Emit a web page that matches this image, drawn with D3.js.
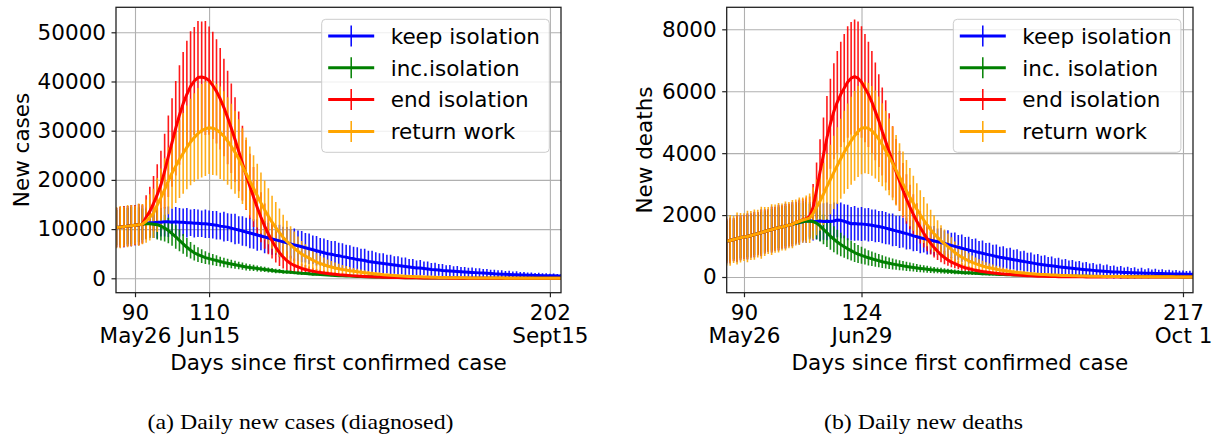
<!DOCTYPE html>
<meta charset="utf-8">
<style>
  body { margin: 0; background: #fff; }
  svg { display: block; }
</style>
<body>
<script src="https://cdn.jsdelivr.net/npm/d3@7"></script>
<script>
// ---- data: daily values, first day 85 ----
// new cases, in thousands (days 85..205)
const casesFirstDay = 85;
const casesKeep = [10.3,10.4,10.5,10.6,10.7,10.8,10.9,11.0,
  11.2,11.3,11.3,11.4,11.4,11.5,11.5,11.4,
  11.5,11.4,11.4,11.3,11.3,11.2,11.2,11.1,11.1,11.0,
  10.9,10.8,10.6,10.5,10.4,10.2,10.0,9.8,9.6,9.4,
  9.2,9.0,8.8,8.6,8.4,8.2,8.0,7.8,7.6,7.4,
  7.2,7.0,6.8,6.6,6.4,6.2,6.0,5.8,5.6,5.4,
  5.2,5.0,4.9,4.7,4.6,4.4,4.3,4.1,4.0,3.8,
  3.7,3.6,3.4,3.3,3.2,3.1,3.0,2.9,2.8,2.7,
  2.6,2.5,2.4,2.3,2.2,2.1,2.1,2.0,1.9,1.8,
  1.75,1.7,1.6,1.55,1.5,1.45,1.4,1.35,1.3,1.25,
  1.2,1.15,1.1,1.05,1.0,0.95,0.9,0.87,0.84,0.8,
  0.77,0.74,0.71,0.68,0.65,0.62,0.6,0.58,0.56,0.54,0.52,0.5,0.49,0.48,0.47];
const casesKeepErr = [4.0,4.1,4.2,4.1,4.2,4.1,4.2,3.8,
  3.2,3.0,3.1,3.3,2.9,3.0,3.1,2.8,
  3.0,2.9,2.8,3.0,2.7,2.9,2.8,2.7,2.9,2.8,
  2.8,2.9,2.7,3.0,2.8,2.9,3.1,2.8,3.0,2.9,
  3.1,3.0,3.2,2.9,3.3,3.1,3.2,3.0,3.3,3.1,
  3.2,3.0,3.3,3.1,3.2,3.0,3.1,2.9,3.0,2.8,
  2.9,2.8,2.7,2.9,2.6,2.7,2.5,2.6,2.4,2.5,
  2.3,2.4,2.2,2.3,2.1,2.0,2.1,1.9,2.0,1.8,
  1.9,1.7,1.8,1.6,1.7,1.5,1.6,1.4,1.5,1.3,
  1.4,1.2,1.3,1.1,1.2,1.0,1.1,0.95,1.0,0.9,
  1.0,0.9,0.95,0.85,0.9,0.8,0.85,0.75,0.8,0.7,
  0.75,0.65,0.7,0.6,0.65,0.55,0.6,0.5,0.55,0.48,0.5,0.44,0.46,0.4,0.42];
const casesInc = [10.3,10.4,10.5,10.6,10.7,10.8,10.9,11.0,
  11.1,11.1,11.0,10.9,10.6,10.2,9.7,9.1,
  8.4,7.7,7.0,6.3,5.7,5.2,4.8,4.5,4.2,4.0,
  3.8,3.6,3.4,3.2,3.05,2.9,2.75,2.6,2.45,2.3,
  2.2,2.1,2.0,1.9,1.8,1.7,1.6,1.5,1.45,1.35,
  1.3,1.22,1.15,1.08,1.0,0.95,0.9,0.84,0.8,0.75,
  0.7,0.66,0.62,0.58,0.54,0.5,0.47,0.44,0.41,0.38,
  0.35,0.33,0.3,0.28,0.26,0.24,0.22,0.2,0.18,0.17,
  0.15,0.14,0.13,0.12,0.11,0.1,0.09,0.08,0.07,0.07,
  0.06,0.06,0.05,0.05,0.04,0.04,0.04,0.03,0.03,0.03,
  0.03,0.02,0.02,0.02,0.02,0.02,0.01,0.01,0.01,0.01,
  0.01,0.01,0.01,0.01,0.01,0.01,0.01,0.01,0.01,0.01,0.01,0.01,0.01,0.01,0.01];
const casesIncErr = [3.6,3.7,3.8,3.7,3.8,3.6,3.5,3.2,
  3.0,2.9,2.8,3.0,2.9,2.7,2.6,2.5,
  2.4,2.2,2.0,1.9,1.7,1.6,1.5,1.4,1.3,1.2,
  1.15,1.1,1.0,0.95,0.9,0.85,0.8,0.78,0.74,0.7,
  0.66,0.63,0.6,0.57,0.54,0.51,0.48,0.46,0.44,0.41,
  0.39,0.37,0.35,0.33,0.31,0.29,0.28,0.26,0.25,0.24,
  0.22,0.21,0.2,0.19,0.18,0.17,0.16,0.15,0.14,0.13,
  0.12,0.11,0.1,0.1,0.09,0.08,0.08,0.07,0.07,0.06,
  0.06,0.05,0.05,0.04,0.04,0.04,0.03,0.03,0.03,0.03,
  0.02,0.02,0.02,0.02,0.02,0.02,0.02,0.02,0.02,0.02,
  0.02,0.02,0.02,0.02,0.02,0.02,0.02,0.02,0.02,0.02,
  0.01,0.01,0.01,0.01,0.01,0.01,0.01,0.01,0.01,0.01,0.01,0.01,0.01,0.01,0.01];
const casesEnd = [10.3,10.4,10.5,10.6,10.7,10.8,10.9,11.0,
  12.4,13.6,15.2,17.0,19.0,21.8,24.8,27.6,
  30.5,33.2,35.5,37.4,39.0,40.1,40.8,40.9,40.7,40.2,
  39.2,38.0,36.5,34.7,32.7,30.5,28.2,25.8,23.4,21.0,
  18.7,16.5,14.4,12.4,10.6,9.0,7.6,6.3,5.2,4.3,
  3.6,3.0,2.6,2.3,2.0,1.8,1.6,1.45,1.3,1.18,
  1.07,0.97,0.88,0.8,0.72,0.66,0.6,0.54,0.49,0.44,
  0.4,0.36,0.33,0.3,0.27,0.24,0.22,0.2,0.18,0.16,
  0.15,0.13,0.12,0.11,0.1,0.09,0.08,0.07,0.06,0.06,
  0.05,0.05,0.04,0.04,0.03,0.03,0.03,0.02,0.02,0.02,
  0.02,0.02,0.02,0.01,0.01,0.01,0.01,0.01,0.01,0.01,
  0.01,0.01,0.01,0.01,0.01,0.01,0.01,0.01,0.01,0.01,0.01,0.01,0.01,0.01,0.01];
const casesEndErr = [4.0,4.1,4.2,4.1,4.2,4.1,4.2,4.0,
  4.5,5.0,5.6,6.2,6.9,7.6,8.3,9.0,
  9.6,10.1,10.5,10.9,11.2,11.0,11.5,11.3,11.6,11.0,
  10.9,10.6,10.3,9.9,9.5,9.1,8.6,8.1,7.6,7.1,
  6.6,6.1,5.6,5.1,4.6,4.1,3.6,3.1,2.7,2.3,
  1.9,1.6,1.4,1.2,1.0,0.9,0.8,0.7,0.6,0.55,
  0.5,0.45,0.4,0.36,0.33,0.3,0.27,0.24,0.21,0.19,
  0.17,0.15,0.13,0.12,0.11,0.1,0.09,0.08,0.07,0.06,
  0.06,0.05,0.05,0.04,0.04,0.03,0.03,0.03,0.02,0.02,
  0.02,0.02,0.02,0.02,0.02,0.02,0.02,0.01,0.01,0.01,
  0.01,0.01,0.01,0.01,0.01,0.01,0.01,0.01,0.01,0.01,
  0.01,0.01,0.01,0.01,0.01,0.01,0.01,0.01,0.01,0.01,0.01,0.01,0.01,0.01,0.01];
const casesReturn = [10.3,10.4,10.5,10.6,10.7,10.8,10.9,11.0,
  11.6,12.4,13.2,14.9,16.4,18.0,19.8,21.4,
  22.8,24.2,25.4,26.6,27.7,28.6,29.4,30.0,30.4,30.6,
  30.5,30.2,29.6,28.9,27.9,26.8,25.6,24.3,22.8,21.3,
  19.8,18.3,16.8,15.3,13.9,12.6,11.4,10.3,9.3,8.3,
  7.5,6.8,6.1,5.5,4.9,4.5,4.1,3.7,3.3,3.0,
  2.75,2.5,2.3,2.1,1.95,1.8,1.68,1.55,1.43,1.32,
  1.22,1.12,1.03,0.95,0.88,0.8,0.72,0.66,0.6,0.55,
  0.5,0.46,0.42,0.38,0.35,0.32,0.29,0.26,0.24,0.22,
  0.2,0.18,0.16,0.15,0.13,0.12,0.11,0.1,0.09,0.08,
  0.07,0.07,0.06,0.06,0.05,0.05,0.04,0.04,0.04,0.03,
  0.03,0.03,0.03,0.02,0.02,0.02,0.02,0.02,0.01,0.01,0.01,0.01,0.01,0.01,0.01];
const casesReturnErr = [4.2,4.3,4.1,4.3,4.2,4.0,4.3,4.1,
  4.4,4.7,5.0,5.5,5.9,6.4,6.8,7.2,
  7.5,7.9,8.2,8.5,8.8,9.0,9.3,9.5,9.6,9.4,
  9.5,9.3,9.4,9.1,8.9,8.7,8.4,8.0,7.7,7.3,
  7.0,6.7,6.5,6.2,6.0,5.7,5.4,5.2,4.9,4.6,
  4.2,3.8,3.4,3.0,2.7,2.4,2.2,2.0,1.8,1.6,
  1.45,1.3,1.2,1.1,1.0,0.9,0.82,0.75,0.68,0.62,
  0.56,0.51,0.47,0.43,0.39,0.36,0.33,0.3,0.27,0.25,
  0.23,0.21,0.19,0.17,0.16,0.15,0.13,0.12,0.11,0.1,
  0.09,0.08,0.08,0.07,0.06,0.06,0.05,0.05,0.04,0.04,
  0.04,0.03,0.03,0.03,0.03,0.02,0.02,0.02,0.02,0.02,
  0.01,0.01,0.01,0.01,0.01,0.01,0.01,0.01,0.01,0.01,0.01,0.01,0.01,0.01,0.01];

// new deaths (days 85..220)
const deathsFirstDay = 85;
const deathsKeep = [1160,1180,1210,1240,1265,1290,1310,1340,
  1370,1400,1430,1470,1500,1530,1560,1590,
  1615,1645,1675,1705,1735,1760,1785,1805,
  1815,1800,1790,1810,1790,1800,1790,1810,1840,1830,1800,1760,
  1720,1730,1710,1710,1700,1690,1670,1650,1630,1610,
  1580,1550,1520,1490,1460,1430,1400,1370,1330,1300,
  1270,1240,1220,1190,1165,1140,1110,1080,1050,1020,
  990,960,930,900,870,845,820,790,765,740,
  715,690,665,640,620,600,580,560,540,520,
  500,480,460,440,420,405,390,375,360,345,
  330,318,305,292,280,268,256,245,234,224,
  214,205,196,188,180,172,165,158,152,146,
  142,138,134,130,127,124,121,118,115,112,
  110,107,104,101,98,96,94,92,90,88];
const deathsKeepErr = [720,740,700,760,730,710,750,720,
  740,700,760,720,690,750,710,740,
  700,730,690,720,680,710,670,700,
  600,620,580,640,590,610,570,600,560,580,550,570,
  540,560,530,550,520,540,510,530,500,520,
  520,500,530,490,520,480,510,470,500,460,
  500,450,490,440,480,430,470,420,460,410,
  450,400,440,390,430,380,420,370,410,360,
  395,350,385,340,375,330,365,320,355,310,
  345,300,335,290,325,280,315,270,305,260,
  290,250,280,240,270,230,260,220,250,210,
  240,200,230,190,220,180,210,170,200,160,
  190,150,180,140,170,130,160,125,150,120,
  140,115,130,110,125,105,120,100,115,95];
const deathsInc = [1160,1180,1210,1240,1265,1290,1310,1340,
  1370,1400,1430,1470,1500,1530,1560,1590,
  1615,1645,1675,1705,1735,1760,1785,1805,
  1800,1790,1740,1650,1540,1430,1320,1220,1130,1050,980,910,
  850,790,740,700,660,620,590,555,525,495,
  470,445,420,400,380,360,342,325,308,292,
  277,263,250,237,225,214,203,193,183,174,
  165,157,149,141,134,127,121,115,109,104,
  98,93,88,84,80,76,72,68,65,62,
  58,55,52,50,47,45,42,40,38,36,
  34,32,30,29,27,26,24,23,22,21,
  20,19,18,17,16,15,14,13,12,12,
  11,10,10,9,9,8,8,7,7,6,
  6,6,5,5,5,4,4,4,4,3];
const deathsIncErr = [650,670,640,680,660,640,670,650,
  660,640,680,650,630,670,640,660,
  630,650,620,640,610,630,600,620,
  560,540,520,500,480,460,440,420,400,380,360,340,
  320,305,290,275,260,248,236,225,214,204,
  195,186,177,169,161,154,147,140,134,128,
  122,116,111,106,101,96,92,88,84,80,
  76,72,69,66,63,60,57,54,52,50,
  47,45,43,41,39,37,35,33,32,30,
  29,27,26,25,24,23,22,21,20,19,
  18,17,16,15,14,13,12,12,11,10,
  10,9,9,8,8,7,7,6,6,6,
  5,5,5,4,4,4,4,3,3,3,
  3,3,3,2,2,2,2,2,2,2];
const deathsEnd = [1160,1180,1210,1240,1265,1290,1310,1340,
  1370,1400,1430,1470,1500,1530,1560,1590,
  1615,1645,1675,1705,1760,1800,1850,1880,
  1950,2250,2800,3400,3950,4500,4950,5350,5650,5900,6100,6300,
  6420,6470,6420,6300,6100,5900,5650,5350,5050,4700,
  4380,4050,3720,3400,3100,2800,2520,2260,2020,1800,
  1600,1410,1240,1090,950,830,720,630,550,480,
  430,380,335,300,270,240,215,195,175,160,
  145,132,120,108,97,87,78,70,62,55,
  48,42,37,32,28,24,21,18,15,13,
  11,10,9,8,7,6,5,5,4,4,
  3,3,3,2,2,2,2,2,1,1,
  1,1,1,1,1,1,1,1,1,1,
  0,0,0,0,0,0,0,0,0,0];
const deathsEndErr = [700,720,690,740,710,700,730,700,
  720,690,740,700,680,730,700,720,
  690,710,680,700,670,700,680,690,
  650,750,900,1050,1200,1350,1450,1550,1650,1700,1750,1800,
  1820,1850,1830,1800,1750,1700,1650,1580,1500,1420,
  1330,1240,1150,1060,970,880,800,720,650,580,
  520,460,410,360,320,280,245,215,190,165,
  145,128,113,100,88,78,69,61,54,48,
  43,38,34,30,27,24,21,19,17,15,
  13,12,10,9,8,7,6,5,5,4,
  4,3,3,3,2,2,2,2,2,1,
  1,1,1,1,1,1,1,1,1,1,
  1,1,1,1,1,1,1,1,1,1,
  0,0,0,0,0,0,0,0,0,0];
const deathsReturn = [1160,1180,1210,1240,1265,1290,1310,1340,
  1370,1400,1430,1470,1500,1530,1560,1590,
  1615,1645,1675,1705,1760,1800,1840,1870,
  1900,2050,2250,2450,2680,2920,3150,3380,3600,3820,4030,4220,
  4400,4560,4700,4800,4830,4800,4720,4600,4450,4270,
  4080,3880,3670,3450,3230,3010,2790,2580,2380,2190,
  2010,1840,1680,1530,1400,1280,1170,1070,980,890,
  790,710,640,580,525,475,430,390,355,325,
  298,273,250,229,210,193,177,162,149,137,
  126,116,107,99,91,84,78,72,66,61,
  57,52,48,45,41,38,35,33,30,28,
  26,24,22,20,19,17,16,15,14,13,
  12,11,10,9,9,8,8,7,7,6,
  6,5,5,5,4,4,4,3,3,3];
const deathsReturnErr = [790,820,760,840,800,770,830,790,
  810,770,840,790,760,820,780,800,
  760,790,750,780,740,770,730,760,
  800,850,900,950,1000,1060,1120,1180,1240,1290,1340,1380,
  1420,1450,1470,1480,1480,1470,1450,1420,1380,1340,
  1290,1240,1190,1140,1090,1040,990,940,890,840,
  790,740,690,640,595,550,505,465,425,390,
  355,325,295,270,245,222,202,184,168,153,
  140,128,117,107,98,90,82,75,69,63,
  58,53,49,45,41,38,35,32,30,28,
  26,24,22,20,18,17,15,14,13,12,
  11,10,9,9,8,7,7,6,6,5,
  5,5,4,4,4,3,3,3,3,2,
  2,2,2,2,2,2,2,2,2,2];

const casesNames = ["keep isolation", "inc.isolation", "end isolation", "return work"];
const deathsNames = ["keep isolation", "inc. isolation", "end isolation", "return work"];
const seriesColors = ["#0000ff", "#008000", "#ff0000", "#ffa500"];

const casesYTicks = [0, 10000, 20000, 30000, 40000, 50000];
const deathsYTicks = [0, 2000, 4000, 6000, 8000];
const casesXTicks = [90, 110, 202];
const casesXDates = ["May26", "Jun15", "Sept15"];
const deathsXTicks = [90, 124, 217];
const deathsXDates = ["May26", "Jun29", "Oct 1"];

// ---- layout ----
const W = 1214, H = 439;
const plotTop = 7.3, plotBottom = 292.7;
const FONT = "DejaVu Sans, sans-serif";
const FS = 21.5;

const thousand = a => a.map(v => v * 1000);

const panels = [
  {
    id: "cases", firstDay: casesFirstDay,
    left: 116, right: 561, xDomain: [84.87, 205], yDomain: [-2930, 55080],
    xTicks: casesXTicks, xDates: casesXDates, yTicks: casesYTicks,
    means: [casesKeep, casesInc, casesEnd, casesReturn].map(thousand),
    errs: [casesKeepErr, casesIncErr, casesEndErr, casesReturnErr].map(thousand),
    names: casesNames, ylabel: "New cases", ylabelX: 28.5,
    legendX: 321.7, caption: "(a) Daily new cases (diagnosed)", captionX: 300.5, captionW: 306
  },
  {
    id: "deaths", firstDay: deathsFirstDay,
    left: 726.7, right: 1193, xDomain: [85, 219.9], yDomain: [-507, 8711],
    xTicks: deathsXTicks, xDates: deathsXDates, yTicks: deathsYTicks,
    means: [deathsKeep, deathsInc, deathsEnd, deathsReturn],
    errs: [deathsKeepErr, deathsIncErr, deathsEndErr, deathsReturnErr],
    names: deathsNames, ylabel: "New deaths", ylabelX: 652,
    legendX: 953.3, caption: "(b) Daily new deaths", captionX: 923.5, captionW: 199
  }
];

const svg = d3.select("body").append("svg")
  .attr("width", W).attr("height", H);
svg.append("rect").attr("width", W).attr("height", H).attr("fill", "#fff");

panels.forEach(drawPanel);

function drawPanel(p) {
  const g = svg.append("g").attr("class", "panel-" + p.id);
  const x = d3.scaleLinear().domain(p.xDomain).range([p.left, p.right]);
  const y = d3.scaleLinear().domain(p.yDomain).range([plotBottom, plotTop]);
  const days = d3.range(p.firstDay, p.firstDay + p.means[0].length);

  // grid
  const gx = g.append("g").attr("transform", `translate(0,${plotBottom})`)
    .call(d3.axisBottom(x).tickValues(p.xTicks).tickSize(-(plotBottom - plotTop)).tickFormat(""));
  const gy = g.append("g").attr("transform", `translate(${p.left},0)`)
    .call(d3.axisLeft(y).tickValues(p.yTicks).tickSize(-(p.right - p.left)).tickFormat(""));
  [gx, gy].forEach(a => {
    a.select(".domain").remove();
    a.selectAll("line").attr("stroke", "#b0b0b0").attr("stroke-width", 1.1);
  });

  // data, clipped to the axes box
  svg.append("clipPath").attr("id", "clip-" + p.id)
    .append("rect").attr("x", p.left).attr("y", plotTop)
    .attr("width", p.right - p.left).attr("height", plotBottom - plotTop);
  const plot = g.append("g").attr("clip-path", `url(#clip-${p.id})`);

  // error bars first, lines above them
  p.means.forEach((m, i) => {
    const e = p.errs[i];
    plot.append("g").selectAll("line").data(days).join("line")
      .attr("x1", d => x(d)).attr("x2", d => x(d))
      .attr("y1", (d, j) => y(m[j] - e[j]))
      .attr("y2", (d, j) => y(m[j] + e[j]))
      .attr("stroke", seriesColors[i])
      .attr("stroke-width", 1.6)
      .attr("stroke-opacity", 0.9);
  });
  p.means.forEach((m, i) => {
    plot.append("path").datum(days)
      .attr("d", d3.line().x(d => x(d)).y((d, j) => y(m[j])))
      .attr("fill", "none")
      .attr("stroke", seriesColors[i])
      .attr("stroke-width", 3)
      .attr("stroke-linejoin", "round");
  });

  // frame
  g.append("rect").attr("x", p.left).attr("y", plotTop)
    .attr("width", p.right - p.left).attr("height", plotBottom - plotTop)
    .attr("fill", "none").attr("stroke", "#222").attr("stroke-width", 1.3);

  // y axis
  const ay = g.append("g").attr("transform", `translate(${p.left},0)`)
    .call(d3.axisLeft(y).tickValues(p.yTicks).tickFormat(d3.format("d"))
      .tickSize(4.5).tickPadding(5.5));
  // x axis, two-line labels
  const ax = g.append("g").attr("transform", `translate(0,${plotBottom})`)
    .call(d3.axisBottom(x).tickValues(p.xTicks).tickSize(4.5).tickPadding(8));
  [ax, ay].forEach(a => {
    a.select(".domain").remove();
    a.attr("font-family", FONT).attr("font-size", FS);
    a.selectAll("line").attr("stroke", "#222").attr("stroke-width", 1.2);
    a.selectAll("text").attr("fill", "#000");
  });
  ax.selectAll(".tick text").each(function(d, i) {
    const t = d3.select(this).text(null);
    t.append("tspan").attr("x", 0).text(d);
    t.append("tspan").attr("x", 0).attr("dy", 23).text(p.xDates[i]);
  });

  g.append("text")
    .attr("x", (p.left + p.right) / 2).attr("y", 370)
    .attr("text-anchor", "middle")
    .attr("font-family", FONT).attr("font-size", FS)
    .text("Days since first confirmed case");

  g.append("text")
    .attr("transform", `translate(${p.ylabelX},${(plotTop + plotBottom) / 2}) rotate(-90)`)
    .attr("text-anchor", "middle")
    .attr("font-family", FONT).attr("font-size", FS)
    .text(p.ylabel);

  // legend
  const lg = g.append("g").attr("transform", `translate(${p.legendX},19.3)`);
  lg.append("rect").attr("width", 227.6).attr("height", 133).attr("rx", 4)
    .attr("fill", "#fff").attr("fill-opacity", 0.8)
    .attr("stroke", "#cccccc").attr("stroke-width", 1);
  p.names.forEach((name, i) => {
    const cy = 16.7 + i * 31.8;
    lg.append("line").attr("x1", 6.5).attr("x2", 52.5).attr("y1", cy).attr("y2", cy)
      .attr("stroke", seriesColors[i]).attr("stroke-width", 3);
    lg.append("line").attr("x1", 29.5).attr("x2", 29.5).attr("y1", cy - 10.5).attr("y2", cy + 10.5)
      .attr("stroke", seriesColors[i]).attr("stroke-width", 1.5);
    lg.append("text").attr("x", 69).attr("y", cy).attr("dy", "0.36em")
      .attr("font-family", FONT).attr("font-size", FS)
      .text(name);
  });

  // caption
  g.append("text")
    .attr("x", p.captionX).attr("y", 429)
    .attr("text-anchor", "middle")
    .attr("font-family", "Liberation Serif, Times New Roman, serif")
    .attr("font-size", 22)
    .attr("textLength", p.captionW).attr("lengthAdjust", "spacingAndGlyphs")
    .text(p.caption);
}
</script>
</body>
